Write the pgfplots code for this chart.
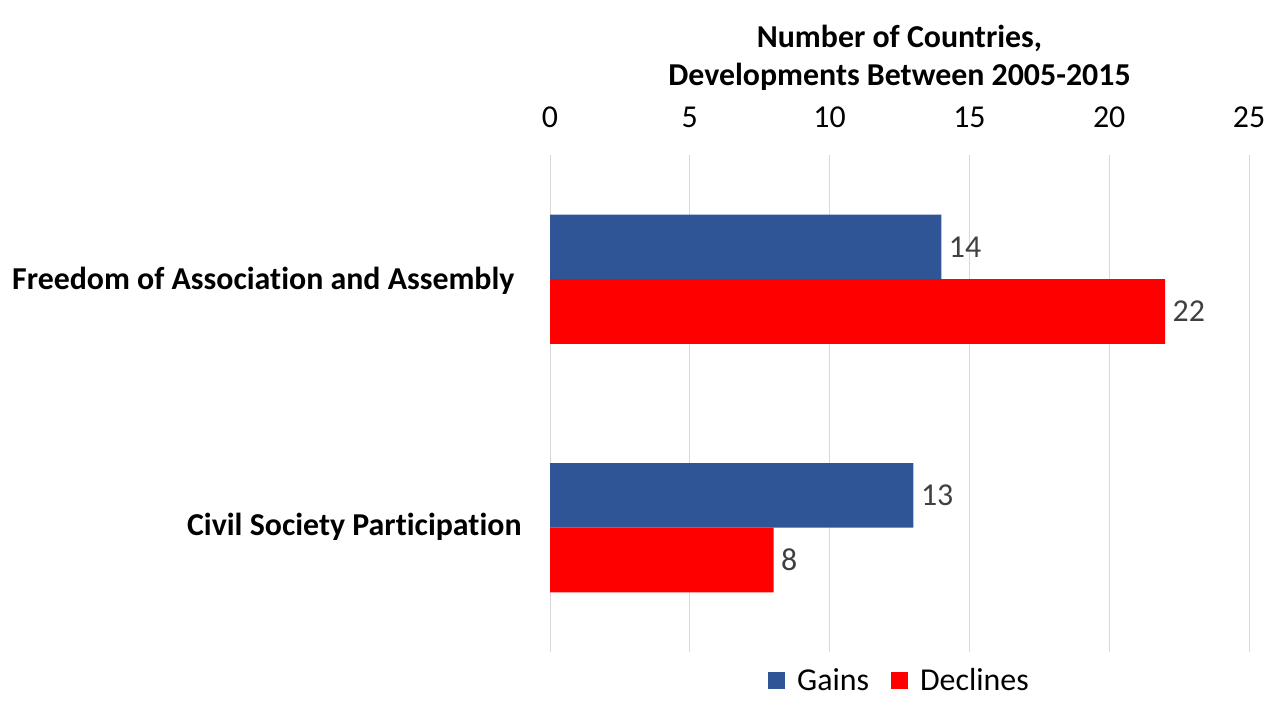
\documentclass[border=0pt]{standalone}
\usepackage{pgfplots}
\pgfplotsset{compat=1.18}
\usepackage{fontspec}
\setmainfont{Carlito}[Ligatures=NoCommon]
\definecolor{gainc}{HTML}{2F5597}
\definecolor{declc}{HTML}{FF0000}
\definecolor{lblc}{HTML}{404040}
\definecolor{gridc}{HTML}{D9D9D9}
\begin{document}
\begin{tikzpicture}[x=1bp,y=1bp]
\path[use as bounding box] (0,0) rectangle (1280,720);
\begin{axis}[
  at={(550bp,68bp)}, anchor=south west,
  scale only axis, width=699bp, height=497bp,
  xmin=0, xmax=25, ymin=-0.5, ymax=1.5,
  xtick={0,5,...,25},
  axis x line*=top,
  axis y line=none,
  x axis line style={draw=none},
  major tick length=0pt,
  xmajorgrids, grid style={gridc, line width=0.8bp},
  ytick={0,1},
  ticklabel style={font=\fontsize{32}{38}\selectfont},
  /pgf/number format/assume math mode=true,
  xticklabel style={yshift=24bp},
  xlabel={\textbf{Number of Countries,}\\\textbf{Developments Between 2005-2015}},
  xlabel style={align=center, font=\fontsize{32}{38}\selectfont, yshift=9bp},
  xbar, bar width=0.26,
  nodes near coords,
  every node near coord/.append style={font=\fontsize{32}{38}\selectfont, text=lblc, xshift=4bp},
  legend style={at={(0.5,-0.025)}, anchor=north, draw=none, legend columns=2,
    font=\fontsize{32}{38}\selectfont,
    /tikz/every odd column/.append style={column sep=10bp},
    /tikz/every even column/.append style={column sep=20bp}},
  legend image code/.code={\fill[#1] (0bp,-9bp) rectangle (17bp,8bp);},
  clip=false,
]
\addplot[fill=gainc, draw=none, bar shift=0.13] coordinates {(13,0) (14,1)};
\addplot[fill=declc, draw=none, bar shift=-0.13] coordinates {(8,0) (22,1)};
\legend{Gains, Declines}
\end{axis}
\node[anchor=east, font=\fontsize{32}{38}\selectfont\bfseries] at (518,720-281) {Freedom of Association and Assembly};
\node[anchor=east, font=\fontsize{32}{38}\selectfont\bfseries] at (525,720-527) {Civil Society Participation};
\end{tikzpicture}
\end{document}
